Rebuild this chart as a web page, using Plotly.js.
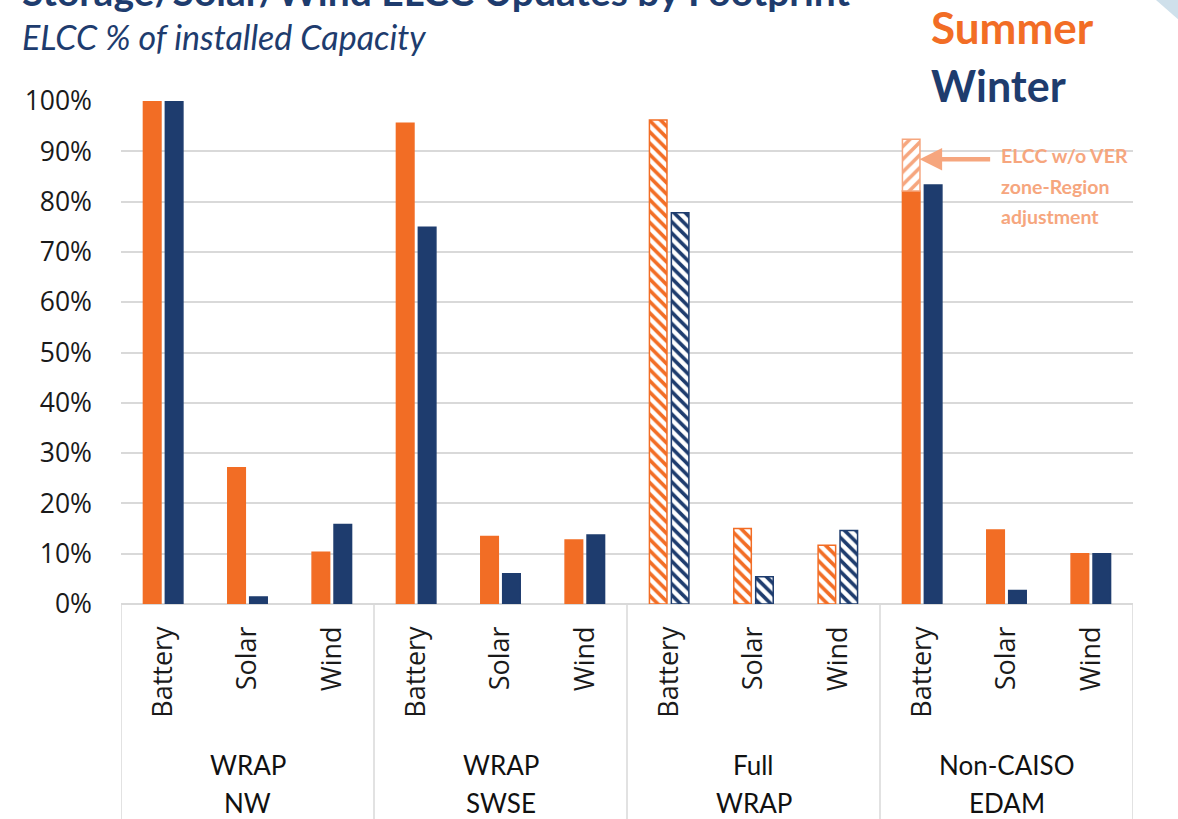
<!DOCTYPE html>
<html>
<head>
<meta charset="utf-8">
<script src="https://cdn.plot.ly/plotly-3.0.1.min.js"></script>
<style>
  html, body { margin: 0; padding: 0; background: #fff; }
  #chart { width: 1178px; height: 819px; }
</style>
</head>
<body>
<div id="chart"></div>
<script>
// ---- data ----
const groupTop = ['WRAP', 'WRAP', 'Full', 'Non-CAISO'];
const groupBottom = ['NW', 'SWSE', 'WRAP', 'EDAM'];
const resources = ['Battery', 'Solar', 'Wind'];
const summer = [100, 27.1, 10.3, 95.6, 13.4, 12.7, 96.2, 15.0, 11.7, 82.1, 14.7, 10.0];
const winter = [100, 1.4, 15.8, 74.9, 6.0, 13.7, 77.8, 5.4, 14.6, 83.3, 2.7, 10.0];
const hatchedGroup = 'Full';            // footprint drawn with hatched bars
const noAdjGroupIndex = 3;              // Non-CAISO EDAM
const noAdjResource = 'Battery';
const summerNoAdj = 92.4;               // ELCC w/o VER zone-Region adjustment
const yTicks = [0, 10, 20, 30, 40, 50, 60, 70, 80, 90, 100];

// ---- derived ----
const xs = [], tickText = [], hatched = [];
groupTop.forEach((g, gi) => resources.forEach((r, ri) => {
  xs.push(gi * resources.length + ri);
  tickText.push(r);
  hatched.push(g === hatchedGroup);
}));
const noAdjX = noAdjGroupIndex * resources.length + resources.indexOf(noAdjResource);

const ORANGE = '#F26D25', NAVY = '#1E3C6E', PEACH = '#F6A67E', GRID = '#D9D9D9';

// pixel helpers for layout decorations
const L = 121, R = 1133, T = 101, B = 604;
const px = v => (v - L) / (R - L);
const py = v => (B - v) / (B - T);

const traces = [
  {
    type: 'bar', name: 'Summer', x: xs, y: summer, offsetgroup: 's',
    marker: {
      color: ORANGE,
      line: { color: ORANGE, width: 1.5 },
      pattern: { shape: hatched.map(h => h ? '\\' : ''), fgcolor: ORANGE, bgcolor: '#ffffff', size: 8, solidity: 0.45 }
    },
    hoverinfo: 'y'
  },
  {
    type: 'bar', name: 'Winter', x: xs, y: winter, offsetgroup: 'w',
    marker: {
      color: NAVY,
      line: { color: NAVY, width: 1.5 },
      pattern: { shape: hatched.map(h => h ? '\\' : ''), fgcolor: NAVY, bgcolor: '#ffffff', size: 8, solidity: 0.45 }
    },
    hoverinfo: 'y'
  },
  {
    type: 'bar', name: 'ELCC w/o VER zone-Region adjustment',
    x: [noAdjX], y: [summerNoAdj - summer[noAdjX]], base: [summer[noAdjX]], offsetgroup: 's',
    marker: {
      color: PEACH,
      line: { color: PEACH, width: 1.5 },
      pattern: { shape: '/', fgcolor: PEACH, bgcolor: '#ffffff', size: 9, solidity: 0.4 }
    },
    hoverinfo: 'y'
  }
];

const shapes = [];
// group dividers below the axis
for (let g = 0; g <= groupTop.length; g++) {
  shapes.push({
    type: 'line', xref: 'x', yref: 'paper',
    x0: g * resources.length - 0.5, x1: g * resources.length - 0.5,
    y0: 0, y1: py(830), line: { color: GRID, width: 1.5 }
  });
}
// gap in top gridline behind the legend text
shapes.push({ type: 'rect', xref: 'paper', yref: 'paper', x0: px(908), x1: px(1118), y0: py(108), y1: py(94),
  fillcolor: '#ffffff', line: { width: 0 }, layer: 'above' });
// corner decoration
shapes.push({ type: 'path', xref: 'paper', yref: 'paper',
  path: `M ${px(1156)} ${py(0)} L ${px(1180)} ${py(0)} L ${px(1180)} ${py(21)} Z`,
  fillcolor: '#CFE0EB', line: { width: 0 }, layer: 'above' });

const annotations = [];
groupTop.forEach((g, gi) => {
  const cx = gi * resources.length + (resources.length - 1) / 2;
  annotations.push({ xref: 'x', yref: 'paper', x: cx, y: py(765), text: g, showarrow: false,
    font: { family: 'Lato, sans-serif', size: 26, color: '#111' }, yanchor: 'middle' });
  annotations.push({ xref: 'x', yref: 'paper', x: cx, y: py(803), text: groupBottom[gi], showarrow: false,
    font: { family: 'Lato, sans-serif', size: 26, color: '#111' }, yanchor: 'middle' });
});
// titles
annotations.push({ xref: 'paper', yref: 'paper', x: px(20), y: py(16), xanchor: 'left', yanchor: 'bottom',
  text: '<b>Storage/Solar/Wind ELCC Updates by Footprint</b>', showarrow: false,
  font: { family: 'Lato, sans-serif', size: 39, color: NAVY } });
annotations.push({ xref: 'paper', yref: 'paper', x: px(20), y: py(37), xanchor: 'left', yanchor: 'middle',
  text: '<i>ELCC % of installed Capacity</i>', showarrow: false,
  font: { family: 'Lato, sans-serif', size: 34, color: NAVY } });
// legend-like labels
annotations.push({ xref: 'paper', yref: 'paper', x: px(1012), y: py(27), xanchor: 'center', yanchor: 'middle',
  text: '<b>Summer</b>', showarrow: false, font: { family: 'Lato, sans-serif', size: 44, color: ORANGE } });
annotations.push({ xref: 'paper', yref: 'paper', x: px(998), y: py(86), xanchor: 'center', yanchor: 'middle',
  text: '<b>Winter</b>', showarrow: false, font: { family: 'Lato, sans-serif', size: 43, color: NAVY } });
// arrow callout
annotations.push({ xref: 'x', yref: 'y', x: noAdjX - 0.03, y: 88.4, ax: 72, ay: 0, axref: 'pixel', ayref: 'pixel',
  text: '', showarrow: true, arrowhead: 2, arrowsize: 1, arrowwidth: 4.5, arrowcolor: PEACH });
['ELCC w/o VER', 'zone-Region', 'adjustment'].forEach((t, i) => {
  annotations.push({ xref: 'paper', yref: 'paper', x: px(999), y: py(156 + i * 30.5), xanchor: 'left', yanchor: 'middle',
    text: '<b>' + t + '</b>', showarrow: false, font: { family: 'Lato, sans-serif', size: 19.5, color: PEACH } });
});

const layout = {
  width: 1178, height: 819,
  margin: { l: L, r: 1178 - R, t: T, b: 819 - B },
  paper_bgcolor: '#ffffff', plot_bgcolor: '#ffffff',
  showlegend: false,
  barmode: 'group', bargap: 0.48, bargroupgap: 0.2,
  xaxis: {
    range: [-0.5, xs.length - 0.5], tickvals: xs, ticktext: tickText, tickangle: -90,
    showgrid: false, zeroline: false, showline: false, ticks: '', ticklabelstandoff: 16,
    tickfont: { family: 'Open Sans, sans-serif', size: 27, color: '#1a1a1a' }
  },
  yaxis: {
    range: [0, 100], tickvals: yTicks, ticktext: yTicks.map(v => v + '%'),
    showgrid: true, gridcolor: GRID, gridwidth: 2, zeroline: true, zerolinecolor: GRID, zerolinewidth: 2,
    showline: false, ticks: '', ticklabelstandoff: 28,
    tickfont: { family: 'Open Sans, sans-serif', size: 26.5, color: '#1a1a1a' }
  },
  shapes: shapes,
  annotations: annotations
};

Plotly.newPlot('chart', traces, layout, { displayModeBar: false, staticPlot: true });
</script>
</body>
</html>
